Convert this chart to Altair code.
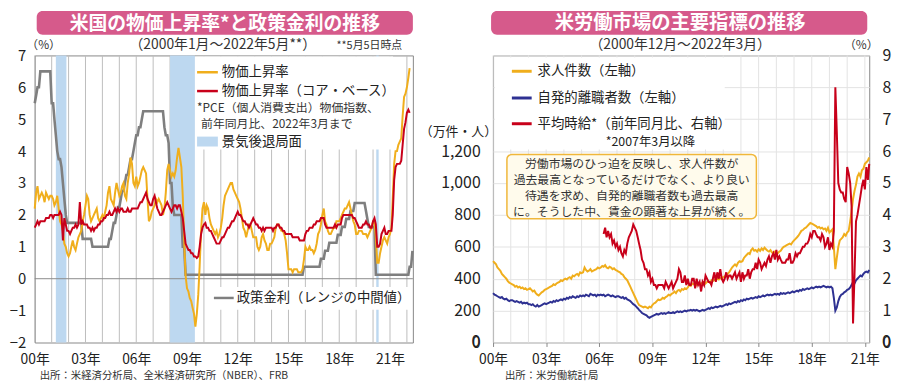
import altair as alt
import pandas as pd

FONT = "Noto Sans CJK JP"
YEL = "#f0ae1c"
RED = "#c8001a"
GRY = "#7f7f7f"
NAVY = "#2e3192"
BAND = "#bdd8f0"
PINK = "#d65a8b"

# ---------------- left panel data (monthly, 2000-01 .. ) ----------------
pce = [
    2.2, 2.7, 2.9, 2.5, 2.6, 2.7, 2.6, 2.4, 2.7, 2.6, 2.5, 2.6,
    2.6, 2.5, 2.3, 2.4, 2.6, 2.2, 1.8, 1.7, 1.5, 1.1, 1.0, 0.8,
    0.7, 0.8, 1.0, 1.2, 1.0, 0.9, 1.1, 1.3, 1.4, 1.5, 1.8, 2.0,
    2.3, 2.6, 2.5, 2.0, 1.8, 1.9, 2.0, 2.1, 2.2, 1.9, 1.8, 1.9,
    2.0, 1.9, 2.1, 2.3, 2.7, 2.9, 2.5, 2.4, 2.3, 2.7, 3.0, 2.8,
    2.6, 2.7, 2.9, 3.0, 2.6, 2.5, 3.0, 3.3, 3.8, 3.6, 3.0, 2.9,
    3.2, 2.9, 3.0, 3.2, 3.4, 3.5, 3.4, 3.3, 2.5, 1.8, 1.9, 2.1,
    2.2, 2.3, 2.5, 2.4, 2.5, 2.4, 2.3, 2.0, 2.2, 2.7, 3.4, 3.6,
    3.4, 3.2, 3.3, 3.2, 3.4, 3.8, 4.1, 3.8, 3.5, 2.6, 1.2, 0.1,
    -0.3, -0.4, -0.6, -0.7, -0.9, -1.1, -1.5, -1.1, -0.5, 0.4, 1.5, 2.2,
    2.4, 2.0, 2.3, 2.2, 1.9, 1.7, 1.6, 1.5, 1.4, 1.5, 1.3, 1.4,
    1.6, 1.9, 2.3, 2.6, 2.7, 2.8, 2.9, 3.0, 3.0, 2.8, 2.7, 2.6,
    2.5, 2.4, 2.2, 1.9, 1.6, 1.5, 1.3, 1.5, 1.7, 1.7, 1.5, 1.3,
    1.3, 1.3, 1.0, 0.9, 1.0, 1.3, 1.4, 1.2, 1.1, 0.9, 0.9, 1.1,
    1.1, 1.2, 1.3, 1.6, 1.7, 1.7, 1.6, 1.5, 1.5, 1.4, 1.2, 0.8,
    0.3, 0.3, 0.3, 0.2, 0.3, 0.3, 0.3, 0.2, 0.2, 0.2, 0.3, 0.6,
    1.0, 0.9, 0.9, 1.0, 0.9, 0.9, 0.8, 0.9, 1.1, 1.4, 1.5, 1.7,
    2.0, 2.2, 1.8, 1.7, 1.5, 1.4, 1.4, 1.5, 1.6, 1.6, 1.8, 1.8,
    1.8, 1.9, 2.0, 2.1, 2.2, 2.2, 2.3, 2.4, 2.2, 2.0, 1.8, 1.7,
    1.4, 1.4, 1.5, 1.5, 1.5, 1.4, 1.4, 1.4, 1.3, 1.4, 1.5, 1.6,
    1.8, 1.8, 1.3, 0.5, 0.5, 0.8, 1.0, 1.2, 1.3, 1.2, 1.1, 1.3,
    1.4, 1.6, 2.5, 3.6, 4.0, 4.0, 4.2, 4.3, 4.4, 5.1, 5.7, 5.8,
    6.0, 6.3, 6.6,
]
core = [
    1.6, 1.7, 1.8, 1.7, 1.8, 1.8, 1.8, 1.8, 1.9, 1.9, 1.9, 2.0,
    2.0, 1.9, 2.0, 2.0, 2.0, 2.0, 2.1, 2.0, 1.2, 1.9, 1.7, 1.5,
    1.5, 1.4, 1.5, 1.6, 1.6, 1.7, 1.6, 1.7, 2.4, 1.7, 1.8, 1.7,
    1.7, 1.7, 1.6, 1.6, 1.5, 1.6, 1.5, 1.6, 1.6, 1.7, 1.7, 1.8,
    1.8, 1.9, 1.9, 2.0, 2.0, 2.1, 2.0, 2.0, 2.1, 2.2, 2.1, 2.2,
    2.1, 2.2, 2.2, 2.1, 2.1, 2.1, 2.2, 2.1, 2.1, 2.2, 2.2, 2.2,
    2.2, 2.2, 2.3, 2.4, 2.4, 2.5, 2.6, 2.7, 2.5, 2.4, 2.3, 2.3,
    2.5, 2.6, 2.4, 2.2, 2.1, 2.0, 2.0, 2.1, 2.2, 2.3, 2.4, 2.3,
    2.2, 2.1, 2.2, 2.3, 2.3, 2.2, 2.3, 2.3, 2.1, 1.9, 1.5, 1.1,
    1.0, 0.9, 0.9, 0.8, 0.8, 0.7, 0.7, 0.65, 0.7, 1.0, 1.4, 1.6,
    1.7, 1.75, 1.6, 1.6, 1.5, 1.5, 1.4, 1.3, 1.2, 1.1, 1.1, 1.1,
    1.2, 1.3, 1.3, 1.4, 1.5, 1.6, 1.6, 1.7, 1.8, 1.8, 1.9, 2.0,
    2.1, 2.0, 2.0, 1.9, 1.8, 1.8, 1.7, 1.7, 1.6, 1.7, 1.8, 1.9,
    1.8, 1.7, 1.7, 1.6, 1.6, 1.5, 1.6, 1.5, 1.6, 1.6, 1.6, 1.6,
    1.6, 1.5, 1.6, 1.6, 1.7, 1.7, 1.6, 1.6, 1.5, 1.5, 1.4, 1.4,
    1.4, 1.4, 1.4, 1.3, 1.3, 1.3, 1.3, 1.3, 1.2, 1.2, 1.2, 1.2,
    1.4, 1.5, 1.5, 1.6, 1.6, 1.6, 1.7, 1.7, 1.8, 1.8, 1.8, 1.9,
    1.9, 1.9, 1.7, 1.6, 1.6, 1.6, 1.6, 1.6, 1.6, 1.7, 1.6, 1.7,
    1.7, 1.7, 1.9, 2.0, 2.0, 2.0, 2.0, 2.0, 2.0, 2.0, 1.9, 1.9,
    1.8, 1.7, 1.6, 1.6, 1.6, 1.7, 1.7, 1.8, 1.7, 1.7, 1.6, 1.6,
    1.8, 1.9, 1.7, 1.0, 1.0, 1.1, 1.4, 1.5, 1.6, 1.4, 1.4, 1.5,
    1.5, 1.5, 2.0, 3.1, 3.5, 3.6, 3.6, 3.6, 3.7, 4.2, 4.7, 4.9,
    5.2, 5.3, 5.2,
]
policy = [
    5.5, 5.75, 6.0, 6.0, 6.5, 6.5, 6.5, 6.5, 6.5, 6.5, 6.5, 6.5,
    5.5, 5.5, 5.0, 4.5, 4.0, 3.75, 3.75, 3.5, 3.0, 2.5, 2.0, 1.75,
    1.75, 1.75, 1.75, 1.75, 1.75, 1.75, 1.75, 1.75, 1.75, 1.75, 1.25, 1.25,
    1.25, 1.25, 1.25, 1.25, 1.25, 1.0, 1.0, 1.0, 1.0, 1.0, 1.0, 1.0,
    1.0, 1.0, 1.0, 1.0, 1.0, 1.25, 1.25, 1.5, 1.75, 1.75, 2.0, 2.25,
    2.25, 2.5, 2.75, 2.75, 3.0, 3.25, 3.25, 3.5, 3.75, 3.75, 4.0, 4.25,
    4.5, 4.5, 4.75, 4.75, 5.0, 5.25, 5.25, 5.25, 5.25, 5.25, 5.25, 5.25,
    5.25, 5.25, 5.25, 5.25, 5.25, 5.25, 5.25, 5.25, 4.75, 4.5, 4.5, 4.25,
    3.0, 3.0, 2.25, 2.0, 2.0, 2.0, 2.0, 2.0, 2.0, 1.0, 1.0, 0.125,
] + [0.125] * 83 + [
    0.375,
    0.375, 0.375, 0.375, 0.375, 0.375, 0.375, 0.375, 0.375, 0.375, 0.375, 0.375, 0.625,
    0.625, 0.625, 0.875, 0.875, 0.875, 1.125, 1.125, 1.125, 1.125, 1.125, 1.125, 1.375,
    1.375, 1.375, 1.625, 1.625, 1.625, 1.875, 1.875, 1.875, 2.125, 2.125, 2.125, 2.375,
    2.375, 2.375, 2.375, 2.375, 2.375, 2.375, 2.375, 2.125, 1.875, 1.625, 1.625, 1.625,
    1.625, 1.625, 0.125, 0.125, 0.125, 0.125, 0.125, 0.125, 0.125, 0.125, 0.125, 0.125,
    0.125, 0.125, 0.125, 0.125, 0.125, 0.125, 0.125, 0.125, 0.125, 0.125, 0.125, 0.125,
    0.125, 0.125, 0.375, 0.375, 0.875,
]
recess_start = ["2001-04-01T00:00:00", "2008-01-01T00:00:00", "2020-03-10T00:00:00"]
recess_end = ["2001-11-15T00:00:00", "2009-06-20T00:00:00", "2020-05-01T00:00:00"]
left_label_years = [2000, 2003, 2006, 2009, 2012, 2015, 2018, 2021]
left_grid_years = list(range(2000, 2023))
left_y_ticks = [-2, -1, 0, 1, 2, 3, 4, 5, 6, 7]

# ---------------- right panel data (monthly, 2000-12 .. 2022-03) ----------------
openings = [
    510,
    500, 490, 470, 460, 450, 430, 420, 410, 400, 385, 375, 370,
    365, 360, 350, 355, 345, 350, 340, 345, 335, 340, 330, 335,
    340, 330, 320, 325, 310, 300, 295, 305, 315, 320, 330, 335,
    340, 345, 350, 355, 365, 360, 370, 375, 380, 390, 385, 395,
    400, 395, 405, 410, 400, 420, 415, 425, 430, 420, 440, 435,
    440, 470, 455, 445, 450, 460, 445, 450, 455, 460, 470, 465,
    470, 480, 475, 485, 470, 465, 475, 470, 460, 465, 455, 450,
    445, 440, 430, 425, 410, 400, 390, 370, 350, 330, 310, 290,
    270, 250, 235, 230, 225, 220, 225, 220, 215, 225, 220, 235,
    245, 250, 260, 270, 265, 270, 280, 275, 285, 290, 300, 295,
    305, 310, 320, 310, 325, 330, 320, 335, 330, 340, 335, 345,
    360, 355, 370, 365, 375, 360, 370, 365, 370, 375, 380, 370,
    380, 385, 375, 390, 385, 395, 390, 400, 395, 405, 400, 410,
    415, 420, 430, 440, 455, 470, 480, 490, 480, 500, 510, 505,
    510, 530, 540, 550, 560, 555, 580, 590, 575, 580, 570, 585,
    575, 590, 580, 595, 585, 575, 570, 580, 565, 560, 570, 555,
    560, 570, 575, 590, 600, 605, 610, 615, 620, 615, 630, 640,
    650, 660, 670, 685, 700, 705, 715, 720, 730, 740, 750, 745,
    740, 735, 730, 720, 725, 715, 720, 710, 715, 700, 720, 690,
    700, 710, 600, 460, 530, 600, 640, 650, 660, 680, 670, 690,
    700, 760, 820, 900, 950, 990, 1040, 1060, 1040, 1080, 1090, 1120,
    1130, 1140, 1160,
]
quits = [
    310,
    300, 295, 290, 285, 280, 285, 275, 270, 275, 265, 260, 265,
    265, 260, 255, 260, 255, 250, 255, 245, 250, 245, 250, 240,
    240, 235, 240, 230, 225, 235, 225, 230, 235, 240, 245, 240,
    245, 250, 255, 250, 260, 255, 265, 260, 265, 270, 265, 275,
    270, 280, 275, 285, 280, 290, 285, 280, 290, 285, 295, 290,
    295, 290, 300, 295, 290, 305, 300, 295, 300, 290, 300, 295,
    300, 295, 300, 290, 295, 300, 295, 290, 295, 290, 285, 290,
    290, 285, 280, 285, 275, 280, 270, 265, 260, 250, 240, 235,
    225, 215, 205, 195, 185, 180, 175, 170, 160, 155, 160, 165,
    170, 175, 180, 175, 180, 185, 180, 185, 180, 185, 190, 185,
    185, 190, 185, 190, 195, 190, 195, 190, 195, 200, 195, 200,
    200, 205, 200, 205, 200, 205, 200, 195, 200, 205, 200, 205,
    210, 215, 210, 220, 215, 220, 225, 220, 225, 230, 225, 230,
    235, 240, 235, 245, 240, 245, 250, 255, 250, 260, 255, 265,
    260, 270, 265, 275, 270, 275, 280, 275, 280, 285, 280, 290,
    285, 290, 295, 290, 295, 300, 295, 300, 295, 300, 305, 300,
    305, 300, 310, 305, 310, 305, 310, 315, 310, 315, 320, 315,
    320, 325, 320, 330, 325, 335, 330, 335, 340, 335, 340, 345,
    340, 345, 350, 345, 350, 345, 350, 355, 350, 345, 350, 345,
    350, 340, 280, 200, 220, 260, 285, 300, 305, 315, 320, 330,
    335, 345, 360, 380, 370, 390, 400, 410, 420, 415, 430, 440,
    445, 440, 455,
]
# average hourly earnings, y/y %, from 2007-03
wages = [
    3.4, 3.6, 3.3, 3.5, 3.3, 3.4, 3.1, 3.2, 3.0, 3.1,
    2.9, 3.0, 2.8, 2.7, 2.9, 2.8, 3.1, 3.3, 3.4, 3.5, 3.7, 3.6,
    3.5, 3.3, 3.1, 2.9, 2.6, 2.5, 2.3, 2.3, 2.1, 2.2, 1.9, 2.0,
    1.8, 1.8, 1.7, 1.8, 1.8, 1.8, 1.8, 1.7, 1.9, 1.8, 1.7, 1.8,
    1.9, 1.7, 1.8, 1.9, 2.0, 2.3, 2.2, 1.9, 1.9, 2.1, 1.8, 2.0,
    1.8, 1.8, 2.0, 2.0, 1.7, 2.0, 1.8, 1.9, 1.6, 1.9, 1.8, 2.1,
    2.0, 1.9, 1.9, 1.8, 2.0, 2.2, 1.9, 2.2, 2.0, 2.3, 2.0, 1.9,
    2.0, 2.2, 2.0, 2.1, 2.1, 2.0, 2.1, 2.2, 2.0, 2.1, 2.2, 1.9,
    2.2, 2.0, 2.1, 2.1, 2.3, 2.0, 2.2, 2.3, 2.3, 2.5, 2.3, 2.6,
    2.5, 2.3, 2.4, 2.5, 2.4, 2.6, 2.7, 2.5, 2.7, 2.8, 2.6, 2.9,
    2.6, 2.7, 2.6, 2.5, 2.5, 2.5, 2.6, 2.6, 2.8, 2.5, 2.5, 2.6,
    2.8, 2.7, 2.8, 2.8, 2.9, 3.0, 3.0, 3.1, 3.1, 3.2, 3.4, 3.3,
    3.5, 3.5, 3.4, 3.3, 3.3, 3.2, 3.4, 3.3, 3.0, 3.1, 3.3, 2.9,
    3.1, 3.0, 3.5, 8.0, 6.6, 5.0, 4.8, 4.7, 4.7, 4.5, 4.4, 5.5,
    5.3, 5.0, 4.3, 0.6, 2.1, 3.8, 4.0, 4.3, 4.6, 4.9, 5.1, 4.8,
    5.5, 5.1, 5.6,
]
right_label_years = [2000, 2003, 2006, 2009, 2012, 2015, 2018, 2021]
right_grid_years = list(range(2000, 2022))
left_axis_ticks = [0, 200, 400, 600, 800, 1000, 1200]
right_axis_ticks = [0, 1, 2, 3, 4, 5, 6, 7, 8, 9]

# ---------------- tables ----------------
df_left = pd.DataFrame({
    "date": pd.date_range("2000-01-01", periods=len(pce), freq="MS"),
    "pce": pce, "core": core})
df_pol = pd.DataFrame({
    "date": pd.date_range("2000-01-01", periods=len(policy), freq="MS"),
    "policy": policy})
df_rec = pd.DataFrame({"start": recess_start, "end": recess_end})
df_gridL = pd.DataFrame({"date": pd.to_datetime([f"{y}-01-01" for y in left_grid_years])})
df_right = pd.DataFrame({
    "date": pd.date_range("2000-12-01", periods=len(openings), freq="MS"),
    "openings": openings, "quits": quits})
df_wage = pd.DataFrame({
    "date": pd.date_range("2007-03-01", periods=len(wages), freq="MS"),
    "wage": wages})
df_gridR = pd.DataFrame({"date": pd.to_datetime([f"{y}-12-01" for y in right_grid_years])})
one = pd.DataFrame({"k": [0]})

WL, HL = 382, 290
WR, HR = 380, 290


def txt(s, x, y, size=13.0, color="#222222", align="left", weight="normal"):
    return alt.Chart(one).mark_text(
        text=s, align=align, baseline="middle", fontSize=size, color=color,
        fontWeight=weight, font=FONT, clip=False).encode(x=alt.value(x), y=alt.value(y))


def box(x1, x2, y1, y2, fill="white", opacity=1.0, stroke=None, radius=0, sw=1.0):
    kw = dict(fill=fill, opacity=opacity, cornerRadius=radius, clip=False)
    if stroke:
        kw.update(stroke=stroke, strokeWidth=sw)
    return alt.Chart(one).mark_rect(**kw).encode(
        x=alt.value(x1), x2=alt.value(x2), y=alt.value(y1), y2=alt.value(y2))


def hline(x1, x2, y, color, sw=2.5):
    return alt.Chart(one).mark_rule(color=color, strokeWidth=sw).encode(
        x=alt.value(x1), x2=alt.value(x2), y=alt.value(y))


# ---------------- left panel ----------------
xsL = alt.Scale(domain=[alt.DateTime(year=2000, month=1, date=1),
                        alt.DateTime(year=2022, month=5, date=10)], nice=False)
axXL = alt.Axis(values=[alt.DateTime(year=y, month=1, date=1) for y in left_label_years],
                format="%y年", formatType="time", labelFlush=False, labelOverlap=False,
                ticks=False, tickSize=0, domain=False, grid=False, labelPadding=10,
                labelFontSize=14, labelFont=FONT, labelColor="#222222", title=None)
ysL = alt.Scale(domain=[-2, 7], nice=False, zero=False)
axYL = alt.Axis(values=left_y_ticks, ticks=False, tickSize=0, domain=False, grid=False,
                labelPadding=9, labelFontSize=15, labelFont=FONT, labelColor="#222222",
                labelOverlap=False, title=None)

xL = lambda f: alt.X(f"{f}:T", scale=xsL, axis=axXL)

frameL = box(-25, 387, -45, 325, opacity=0)
gridL = alt.Chart(df_gridL).mark_rule(color="#bdbdbd", strokeWidth=1).encode(
    x=xL("date"), y=alt.value(0), y2=alt.value(HL))
bands = alt.Chart(df_rec).mark_rect(color=BAND, opacity=1).encode(
    x=xL("start"), x2="end:T", y=alt.value(0), y2=alt.value(HL))
boxL1 = box(162, 362, 1, 95)
boxL2 = box(178, 378, 234, 257)
zeroL = alt.Chart(one).mark_rule(color="#8c8c8c", strokeWidth=1).encode(
    y=alt.Y(datum=0, scale=ysL, axis=axYL), x=alt.value(0), x2=alt.value(WL))
polL = alt.Chart(df_pol).mark_line(color=GRY, strokeWidth=2.6).encode(
    x=xL("date"), y=alt.Y("policy:Q", scale=ysL, axis=axYL))
pceL = alt.Chart(df_left).mark_line(color=YEL, strokeWidth=2).encode(
    x=xL("date"), y=alt.Y("pce:Q", scale=ysL, axis=axYL))
coreL = alt.Chart(df_left).mark_line(color=RED, strokeWidth=2).encode(
    x=xL("date"), y=alt.Y("core:Q", scale=ysL, axis=axYL))

left_layers = [
    frameL, gridL, bands, boxL1, boxL2, zeroL, polL, pceL, coreL,
    hline(164, 185, 17, YEL), txt("物価上昇率", 189, 17, 13.5),
    hline(164, 185, 36, RED), txt("物価上昇率（コア・ベース）", 189, 36, 13.5),
    txt("*PCE（個人消費支出）物価指数、", 164, 53, 12, "#333333"),
    txt("前年同月比、2022年3月まで", 168, 69, 12, "#333333"),
    box(164, 185, 82, 92, fill=BAND), txt("景気後退局面", 189, 87, 13.5),
    hline(181, 201, 245, GRY), txt("政策金利（レンジの中間値）", 204, 245, 13.5),
    box(2, 382, -45, -21, fill=PINK, radius=6),
    txt("米国の物価上昇率*と政策金利の推移", 192, -32, 19, "white", "center", "bold"),
    txt("（2000年1月～2022年5月**）", 190, -10, 14, "#333333", "center"),
    txt("**5月5日時点", 338, -9, 11, "#333333", "center"),
    txt("（%）", 9, -11, 12, "#333333", "center"),
    txt("出所：米経済分析局、全米経済研究所（NBER）、FRB", 5, 324, 10.5, "#333333"),
]
left = alt.layer(*left_layers).properties(width=WL, height=HL)

# ---------------- right panel ----------------
xsR = alt.Scale(domain=[alt.DateTime(year=2000, month=12, date=1),
                        alt.DateTime(year=2022, month=3, date=1)], nice=False)
axXR = alt.Axis(values=[alt.DateTime(year=y, month=12, date=1) for y in right_label_years],
                format="%y年", formatType="time", labelFlush=False, labelOverlap=False,
                ticks=True, tickSize=4, tickColor="#888888", domain=False, grid=False,
                labelPadding=6, labelFontSize=14, labelFont=FONT, labelColor="#222222",
                title=None)
xR = lambda f: alt.X(f"{f}:T", scale=xsR, axis=axXR)
ysR1 = alt.Scale(domain=[0, 1800], nice=False)
ysR2 = alt.Scale(domain=[0, 9], nice=False)
axR1 = alt.Axis(values=left_axis_ticks, format=",.0f", orient="left", ticks=False, tickSize=0,
                domain=False, grid=False, labelPadding=13, labelFontSize=16, labelFont=FONT,
                labelColor="#222222", labelOverlap=False, labelFlush=False, labelBound=False,
                title=None)
axR2 = alt.Axis(values=right_axis_ticks, orient="right", ticks=False, tickSize=0,
                domain=False, grid=True, gridColor="#e3e3e3", gridWidth=1, labelPadding=13,
                labelFontSize=16, labelFont=FONT, labelColor="#222222", labelOverlap=False,
                labelFlush=False, labelBound=False, title=None)

frameR = box(-68, 400, -45, 325, opacity=0)
gridR = alt.Chart(df_gridR).mark_rule(color="#e3e3e3", strokeWidth=1).encode(
    x=xR("date"), y=alt.value(0), y2=alt.value(HR))
boxR = box(2, 234, 2, 95)
openR = alt.Chart(df_right).mark_line(color=YEL, strokeWidth=2).encode(
    x=xR("date"), y=alt.Y("openings:Q", scale=ysR1, axis=axR1))
quitR = alt.Chart(df_right).mark_line(color=NAVY, strokeWidth=2).encode(
    x=xR("date"), y=alt.Y("quits:Q", scale=ysR1, axis=None))
wageR = alt.Chart(df_wage).mark_line(color=RED, strokeWidth=2).encode(
    x=xR("date"), y=alt.Y("wage:Q", scale=ysR2, axis=axR2))

note_lines = ["労働市場のひっ迫を反映し、求人件数が",
              "過去最高となっているだけでなく、より良い",
              "待遇を求め、自発的離職者数も過去最高",
              "に。そうした中、賃金の顕著な上昇が続く。"]

right_layers = [
    frameR, gridR, boxR, openR, quitR, wageR,
    # bottom "0" labels of both value axes, at the base line of the plot
    txt("0", -13, HR, 16, "#222222", "right"),
    txt("0", WR + 13, HR, 16, "#222222", "left"),
    hline(19, 39, 16, YEL, 3), txt("求人件数（左軸）", 45, 16, 13.5),
    hline(19, 39, 43, NAVY, 3), txt("自発的離職者数（左軸）", 45, 43, 13.5),
    hline(19, 39, 69, RED, 3), txt("平均時給*（前年同月比、右軸）", 45, 69, 13.5),
    txt("*2007年3月以降", 159, 87, 12.5, "#222222", "center"),
    box(14, 266, 100, 165, fill="#fffbec", stroke="#f0b73a", radius=5, sw=1.5),
] + [txt(s, 140, 110 + 16 * i, 12, "#333333", "center") for i, s in enumerate(note_lines)] + [
    box(-2, 378, -45, -21, fill=PINK, radius=6),
    txt("米労働市場の主要指標の推移", 189, -33, 19.5, "white", "center", "bold"),
    txt("（2000年12月～2022年3月）", 189, -10, 14, "#333333", "center"),
    txt("（%）", 372, -10, 12, "#333333", "center"),
    txt("（万件・人）", -35, 77, 13, "#222222", "center"),
    txt("出所：米労働統計局", 12, 324, 10.5, "#333333"),
]
right = alt.layer(*right_layers).resolve_scale(y="independent").resolve_axis(
    y="independent").properties(width=WR, height=HR)

chart = alt.hconcat(left, right, spacing=0).properties(padding=0).configure_view(
    stroke="#888888", strokeWidth=1).configure_axis(labelFont=FONT)

chart.save("out.html", embed_options={"renderer": "svg", "actions": False})
